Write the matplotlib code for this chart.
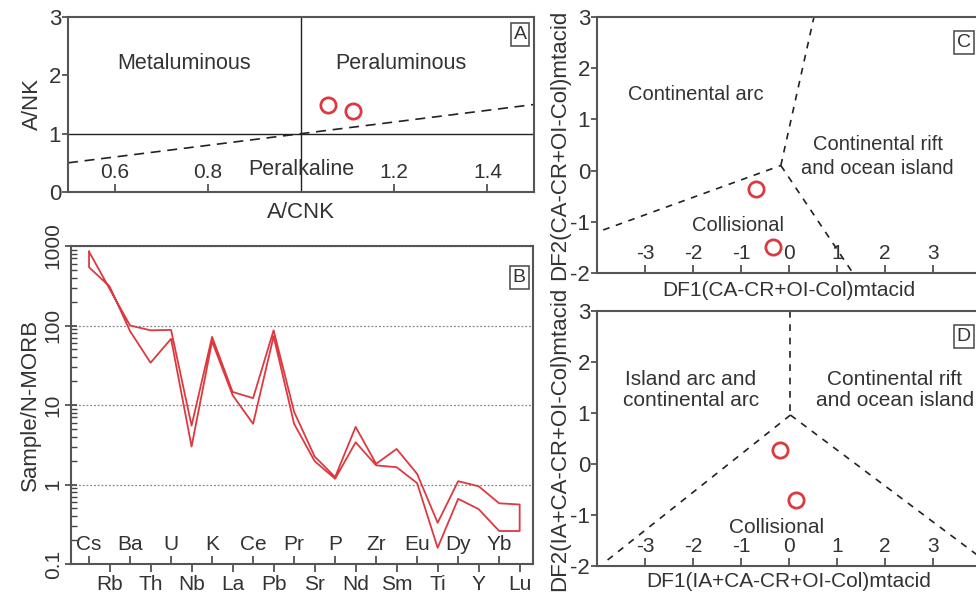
import numpy as np
import matplotlib
matplotlib.use("Agg")
import matplotlib.pyplot as plt

plt.rcParams['font.family'] = ['Liberation Sans', 'DejaVu Sans']
plt.rcParams['axes.unicode_minus'] = False
plt.rcParams['text.color'] = '#333333'
plt.rcParams['axes.labelcolor'] = '#333333'
plt.rcParams['xtick.color'] = '#444444'
plt.rcParams['ytick.color'] = '#444444'
plt.rcParams['xtick.labelcolor'] = '#333333'
plt.rcParams['ytick.labelcolor'] = '#333333'

RED = '#dc3a40'
SPINE = '#555555'

# --- A: A/CNK vs A/NK
acnk = [1.058, 1.112]
anK = [1.49, 1.39]
a_xticks = [0.6, 0.8, 1.2, 1.4]
a_xticklabels = ['0.6', '0.8', '1.2', '1.4']

# --- B: N-MORB normalised spider diagram
elements = ['Cs', 'Rb', 'Ba', 'Th', 'U', 'Nb', 'K', 'La', 'Ce', 'Pb', 'Pr',
            'Sr', 'P', 'Nd', 'Zr', 'Sm', 'Eu', 'Ti', 'Dy', 'Y', 'Yb', 'Lu']
sample1 = [850, 290, 100, 87, 88, 5.5, 72, 14.6, 12.2, 87, 8.2,
           2.25, 1.24, 5.3, 1.82, 2.8, 1.36, 0.33, 1.1, 0.95, 0.58, 0.56]
sample2 = [540, 310, 85, 34, 68, 3.0, 63, 13.3, 5.8, 73, 5.8,
           1.97, 1.18, 3.4, 1.74, 1.65, 1.04, 0.16, 0.66, 0.49, 0.26, 0.26]

# --- C: DF1/DF2 (CA-CR+OI-Col)
c_df1 = [-0.69, -0.33]
c_df2 = [-0.35, -1.49]
c_lines = [([-3.87, -0.17], [-1.16, 0.10]),
           ([-0.17, 0.52], [0.10, 3.0]),
           ([-0.17, 1.33], [0.10, -2.0])]

# --- D: DF1/DF2 (IA+CA-CR+OI-Col)
d_df1 = [-0.19, 0.14]
d_df2 = [0.27, -0.71]
d_lines = [([0.03, 0.03], [3.0, 0.96]),
           ([0.03, -3.83], [0.96, -1.92]),
           ([0.03, 4.0], [0.96, -1.84])]

df_ticks = [-3, -2, -1, 0, 1, 2, 3]
df_yticks = [-2, -1, 0, 1, 2, 3]

W, H = 976, 595
fig = plt.figure(figsize=(W / 100, H / 100), dpi=100)


def box(l, t, r, b):
    return [l / W, 1 - b / H, (r - l) / W, (b - t) / H]


def style(ax):
    for s in ax.spines.values():
        s.set_color(SPINE)
        s.set_linewidth(1.5)


def panel_tag(ax, s, x=0.97):
    ax.text(x, 0.9, s, transform=ax.transAxes, fontsize=14, ha='center', va='center',
            bbox=dict(boxstyle='square,pad=0.15', fc='white', ec=SPINE, lw=1.2))


def circles(ax, x, y):
    ax.plot(x, y, 'o', ms=11, mfc='none', mec=RED, mew=2, zorder=5)


# Panel A
ax = fig.add_axes(box(68, 17, 534, 192))
style(ax)
ax.set_xlim(0.5, 1.5)
ax.set_ylim(0, 3)
ax.axhline(1, color='#222222', lw=1)
ax.axvline(1, color='#222222', lw=1)
ax.plot([0.5, 1.5], [0.5, 1.5], color='#222222', lw=1.2, ls=(0, (6, 4)))
circles(ax, acnk, anK)
ax.text(0.75, 2.2, 'Metaluminous', fontsize=15.5, ha='center', va='center')
ax.text(1.215, 2.2, 'Peraluminous', fontsize=15.5, ha='center', va='center')
ax.text(1.0, 0.38, 'Peralkaline', fontsize=15.5, ha='center', va='center')
ax.set_xticks(a_xticks, a_xticklabels)
ax.set_yticks([0, 1, 2, 3])
ax.tick_params(axis='x', direction='in', length=6, width=1.2, pad=-21, labelsize=15)
ax.tick_params(axis='y', direction='out', length=4, width=1.2, pad=1, labelsize=16)
ax.set_xlabel('A/CNK', fontsize=16, labelpad=7)
ax.set_ylabel('A/NK', fontsize=16, labelpad=4)
panel_tag(ax, 'A')

# Panel B
ax = fig.add_axes(box(71, 246, 533, 564))
style(ax)
idx = np.arange(len(elements))
ax.set_yscale('log')
ax.set_xlim(-0.88, 21.65)
ax.set_ylim(0.1, 1000)
px = list(idx) + list(idx[::-1]) + [idx[0]]
py = sample1 + sample2[::-1] + [sample1[0]]
ax.plot(px, py, color=RED, lw=1.3)
ax.set_yticks([0.1, 1, 10, 100, 1000], ['0.1', '1', '10', '100', '1000'])
ax.yaxis.set_minor_formatter(matplotlib.ticker.NullFormatter())
for lab in ax.get_yticklabels():
    lab.set_rotation(90)
    lab.set_va('center')
ax.tick_params(axis='y', which='major', direction='inout', length=8, width=1.2, pad=2, labelsize=15)
ax.tick_params(axis='y', which='minor', direction='in', length=4, width=1)
ax.set_xticks(idx[::2], elements[::2])
ax.set_xticks(idx[1::2], elements[1::2], minor=True)
ax.tick_params(axis='x', which='major', direction='in', length=6, width=1.2, pad=-21, labelsize=15)
ax.tick_params(axis='x', which='minor', direction='out', length=6, width=1.2, pad=2, labelsize=15)
ax.yaxis.grid(True, which='major', ls=(0, (1.5, 1.5)), color='#888888', lw=0.9)
ax.set_ylabel('Sample/N-MORB', fontsize=16, labelpad=2)
panel_tag(ax, 'B')

# Panel C
ax = fig.add_axes(box(597, 17, 981, 273))
style(ax)
ax.set_xlim(-4, 4)
ax.set_ylim(-2, 3)
for lx, ly in c_lines:
    ax.plot(lx, ly, color='#222222', lw=1.2, ls=(0, (4, 4)))
circles(ax, c_df1, c_df2)
ax.text(-1.94, 1.49, 'Continental arc', fontsize=14.5, ha='center', va='center')
ax.text(1.85, 0.27, 'Continental rift\nand ocean island', fontsize=14.5, ha='center', va='center',
        linespacing=1.35)
ax.text(-1.06, -1.08, 'Collisional', fontsize=14.5, ha='center', va='center')
ax.set_xticks(df_ticks)
ax.set_yticks(df_yticks)
ax.tick_params(axis='x', direction='in', length=6, width=1.2, pad=-21, labelsize=15)
ax.tick_params(axis='y', direction='out', length=4, width=1.2, pad=1, labelsize=16)
ax.set_xlabel('DF1(CA-CR+OI-Col)mtacid', fontsize=15, labelpad=6)
ax.set_ylabel('DF2(CA-CR+OI-Col)mtacid', fontsize=16, labelpad=0)
panel_tag(ax, 'C', x=0.955)

# Panel D
ax = fig.add_axes(box(597, 311, 981, 566))
style(ax)
ax.set_xlim(-4, 4)
ax.set_ylim(-2, 3)
for lx, ly in d_lines:
    ax.plot(lx, ly, color='#222222', lw=1.2, ls=(0, (4, 4)))
circles(ax, d_df1, d_df2)
ax.text(-2.05, 1.45, 'Island arc and\ncontinental arc', fontsize=15, ha='center', va='center',
        linespacing=1.1)
ax.text(2.2, 1.45, 'Continental rift\nand ocean island', fontsize=15, ha='center', va='center',
        linespacing=1.1)
ax.text(-0.26, -1.25, 'Collisional', fontsize=15, ha='center', va='center')
ax.set_xticks(df_ticks)
ax.set_yticks(df_yticks)
ax.tick_params(axis='x', direction='in', length=6, width=1.2, pad=-21, labelsize=15)
ax.tick_params(axis='y', direction='out', length=4, width=1.2, pad=1, labelsize=16)
ax.set_xlabel('DF1(IA+CA-CR+OI-Col)mtacid', fontsize=15, labelpad=4)
ax.set_ylabel('DF2(IA+CA-CR+OI-Col)mtacid', fontsize=16, labelpad=0)
panel_tag(ax, 'D', x=0.955)

fig.savefig('out.png', dpi=100)
